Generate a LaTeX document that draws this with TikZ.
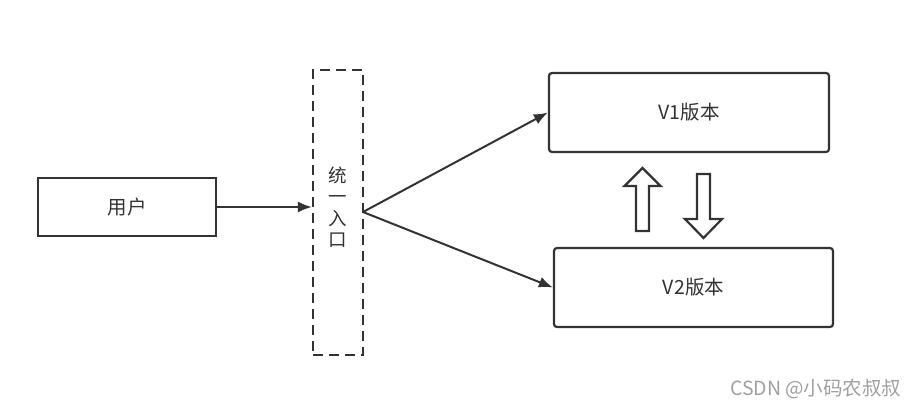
\documentclass[tikz,border=0pt]{standalone}
\usepackage{fontspec}
\usepackage{xcolor}
\setmainfont{Noto Sans CJK SC}
\usetikzlibrary{arrows.meta, positioning}
\definecolor{lineGray}{HTML}{333333}
\definecolor{markGray}{HTML}{A0A0A0}

\begin{document}
\begin{tikzpicture}[x=1pt, y=-1pt,
    box/.style={draw=lineGray, line width=2.2pt, rounded corners=3pt, font=\fontsize{19.5}{23}\selectfont, text=lineGray},
    link/.style={draw=lineGray, line width=2pt, -{Latex[length=14pt,width=11pt]}},
    hollow/.style={draw=lineGray, line width=2.2pt, fill=white, line join=miter}]
\useasboundingbox (0,0) rectangle (918,410);

\node[box, rounded corners=0pt, minimum width=178pt, minimum height=58pt] (user) at (127,207) {用户};
\node[box, dashed, dash pattern=on 10pt off 6pt, rounded corners=0pt, minimum width=50pt, minimum height=285pt] (entry) at (338,212.5) {};
\node[align=center, text=lineGray, font=\fontsize{18.5}{21.5}\selectfont] (entrytext) at (338,207) {统\\一\\入\\口};
\node[box, minimum width=280pt, minimum height=79pt] (vone) at (689,112.5) {V1版本};
\node[box, minimum width=279pt, minimum height=79pt] (vtwo) at (693.5,287.5) {V2版本};

\coordinate (fork) at (363,212);
\draw[link] (user.east) -- (user.east -| entry.west);
\draw[link] (fork) -- (vone.west);
\draw[link] (fork) -- (vtwo.west);

% switch arrows
\draw[hollow] (642.5,168) -- (660.5,186) -- (649,186) -- (649,231) -- (636,231) -- (636,186) -- (624.5,186) -- cycle;
\draw[hollow] (703.5,238) -- (722,219) -- (710,219) -- (710,174) -- (697,174) -- (697,219) -- (685,219) -- cycle;

\node[text=markGray, font=\fontsize{19.5}{23}\selectfont, anchor=east] (mark) at (905,389) {CSDN @小码农叔叔};
\end{tikzpicture}
\end{document}
